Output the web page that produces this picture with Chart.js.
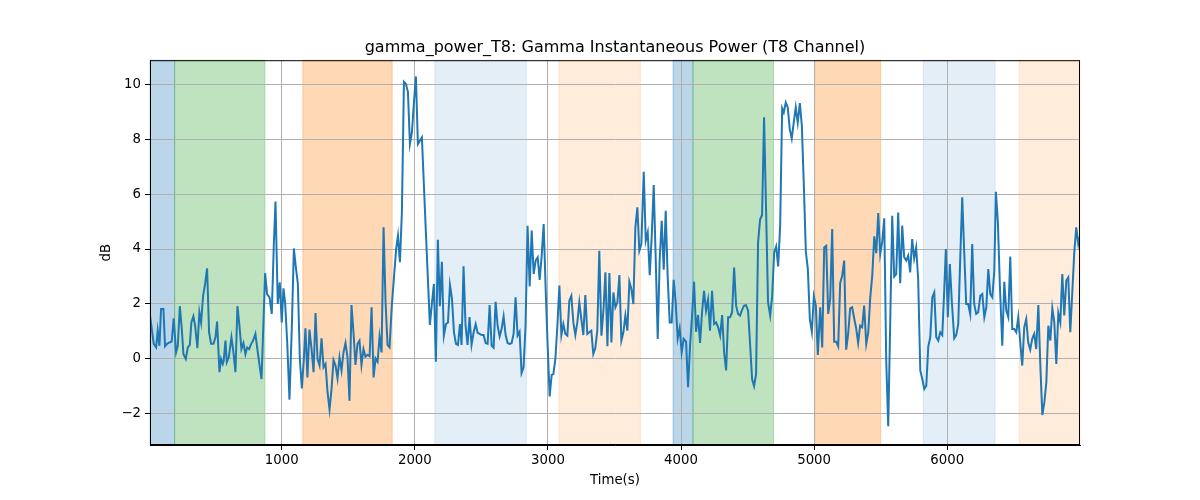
<!DOCTYPE html>
<html>
<head>
<meta charset="utf-8">
<script src="https://cdn.jsdelivr.net/npm/chart.js@4/dist/chart.umd.min.js"></script>
<style>
  html, body { margin: 0; padding: 0; background: #fff; }
  #wrap { width: 1200px; height: 500px; }
</style>
</head>
<body>
<div id="wrap"><canvas id="chart" width="1200" height="500"></canvas></div>
<script>
// sample times (s)
const timeS = [
  10,38,56,68,81,93,111,123,138,156,173,188,206,219,234,249,261,279,294,309,321,336,349,366,381,394,409,424,439,454,469,487,502,514,532,544,557,564,577,587,602,622,637,652,667,682,697,712,727,740,755,770,785,802,820,835,848,875,890,908,925,940,953,970,985,
  1000,1013,1026,1041,1058,1076,1091,1106,1121,1136,1151,1166,1178,1193,1208,1224,1239,1254,1269,1284,1299,1314,1329,1344,1359,1374,1389,1404,1419,1434,1449,1464,1479,1494,1509,1524,1539,1554,1569,1584,1599,1614,1629,1645,1660,1675,1690,1705,1720,1735,1750,1765,1780,1795,1810,1827,1845,1860,1873,1888,1903,1918,1933,1948,1963,1978,1993,2008,
  2023,2038,2053,2083,2113,2128,2143,2158,2173,2188,2203,2218,2234,2249,2264,2279,2294,2309,2324,2339,2351,2366,2381,2396,2411,2426,2442,2457,2472,2487,2502,2517,2532,2547,2562,2577,2592,2607,2622,2637,2652,2667,2682,2697,2712,2727,2742,2757,2772,2787,2802,2817,2832,2847,2863,2878,2893,2908,2923,2938,2953,2968,2983,2998,3013,
  3028,3041,3056,3071,3086,3101,3116,3131,3146,3161,3176,3191,3206,3221,3236,3251,3266,3281,3296,3311,3326,3341,3356,3371,3386,3402,3417,3432,3447,3462,3477,3492,3507,3522,3537,3552,3567,3582,3597,3612,3627,3642,3657,3672,3687,3702,3720,3735,3750,3765,3780,3795,3810,3825,3840,3855,3870,3885,3900,3915,3930,3945,3960,3975,3990,4005,4020,
  4038,4053,4068,4083,4098,4113,4128,4143,4158,4173,4188,4203,4218,4233,4249,4264,4279,4294,4309,4324,4339,4354,4369,4384,4399,4414,4429,4444,4459,4474,4489,4504,4519,4534,4549,4564,4579,4594,4609,4624,4639,4654,4670,4685,4700,4715,4730,4745,4760,4772,4787,4802,4817,4832,4847,4862,4877,4893,4908,4923,4938,4953,4968,4983,4998,5013,5028,
  5046,5061,5076,5091,5106,5121,5136,5151,5166,5181,5196,5211,5226,5241,5256,5271,5286,5301,5316,5331,5346,5361,5376,5392,5407,5422,5437,5452,5467,5482,5497,5512,5527,5542,5557,5572,5587,5602,5617,5632,5647,5662,5677,5692,5707,5722,5737,5752,5767,5782,5798,5813,5828,5843,5858,5873,5888,5903,5918,5933,5948,5963,5978,5990,6005,6020,6036,
  6053,6068,6083,6098,6113,6128,6143,6158,6173,6188,6203,6218,6233,6249,6264,6279,6294,6309,6324,6339,6354,6366,6381,6396,6414,6429,6444,6459,6474,6489,6504,6519,6534,6549,6564,6579,6594,6609,6624,6639,6654,6669,6685,6700,6715,6730,6745,6760,6775,6790,6805,6820,6835,6850,6865,6880,6895,6910,6925,6940,6955,6970,6985,6998
];

// gamma power (dB), same order as timeS
const gammaDb = [
  1.58,0.55,0.42,1.03,0.48,1.82,1.82,0.46,0.55,0.6,0.63,1.48,0.24,0.48,1.92,1.09,0.18,0.0,0.42,0.51,1.33,1.55,1.21,0.39,1.7,1.33,2.3,2.73,3.3,0.97,0.55,0.55,0.79,1.36,-0.48,0,-0.18,-0.06,0.67,-0.12,0.06,0.79,0.24,-0.48,1.92,1.21,0.36,0.58,0.18,0.42,0.36,0.55,0.67,0.91,0.24,-0.3,-0.73,3.12,2.36,2.24,1.64,4.12,5.73,2.0,2.79,
  1.33,2.57,2.0,0.6,-1.48,1.21,4.02,3.33,2.73,0,-1.07,0,1.12,-0.67,1.07,0.36,-0.48,1.67,0,-0.24,0.75,-0.3,-0.18,-1.21,-1.84,-1.09,-0.04,-0.24,-0.7,0.06,-0.42,0.24,0.58,0.06,-1.52,1.96,0.97,-0.22,0.55,0.67,-0.22,0.36,0.08,0.15,0.1,1.88,-0.67,0.02,-0.1,0.82,0.24,4.79,2.06,0.51,0.42,1.94,3.09,4.02,4.48,3.52,5.39,10.08,10.0,9.72,7.82,8.24,9.33,10.28,
  7.82,7.94,8.06,4.6,1.24,2.0,2.73,-0.1,4.34,1.92,3.54,0.85,1.27,1.33,2.69,2.2,0.97,0.55,0.51,1.27,0.51,3.37,1.21,0.51,1.52,0.51,0.97,1.27,0.95,0.91,0.87,0.87,0.58,0.55,1.96,0.48,0.41,2.08,1.21,0.82,1.09,1.55,0.87,0.58,0.55,0.57,0.91,2.24,0.85,0.99,-0.51,-0.3,1.21,4.85,2.64,4.67,3.09,3.58,3.7,2.88,3.76,4.91,2.55,0.48,-1.36,
  -0.58,-0.55,0,1.21,2.67,0.87,1.27,0.91,0.85,2.12,2.3,1.33,0.87,1.33,2.06,1.45,0.87,2.33,0.91,0.97,1.03,0.18,0.39,1.03,3.94,0.85,1.76,3.15,0.46,3.13,0.6,2.42,1.88,2.06,3.05,0.67,0.97,1.58,1.03,2.81,2.55,2.0,4.79,5.52,3.94,4.18,6.81,4.3,4.6,3.05,4.48,6.33,3.64,0.73,3.64,5.03,3.25,5.39,2.97,1.33,1.33,2.88,2.06,0.75,1.12,0.24,0.73,
  0.63,-1.03,0.48,1.58,2.81,0.99,1.6,0.58,1.7,2.48,1.76,2.16,1.03,2.48,1.27,1.33,1.15,0.85,1.6,0.24,-0.42,1.52,1.52,1.7,3.33,1.94,1.64,1.58,1.79,1.94,1.96,1.76,0.55,-0.73,-0.99,-0.55,4.24,5.07,5.24,8.79,5.45,2.06,1.58,2.3,3.88,4.1,3.37,4.85,9.12,8.97,9.33,9.15,8.36,8.02,8.6,9.15,8.6,9.31,8.48,6.3,3.9,3.27,1.45,0.99,2.28,1.94,0.15,
  1.88,0.42,4.06,4.12,1.64,2.18,4.73,0.63,0.63,0.46,2.76,3.03,3.58,0.34,0.91,1.84,1.88,1.48,1.12,0.58,1.21,1.15,1.94,0.55,0.97,2.24,3.03,4.46,3.85,5.31,3.82,4.27,5.12,-0.06,-2.45,1.33,5.21,3.0,3.09,5.33,2.76,4.85,3.7,3.58,3.76,3.15,4.36,3.66,4.06,2.91,-0.42,-0.73,-1.09,-0.97,0.46,0.79,2.24,2.42,0.79,0.67,0.97,0.87,2.52,4.0,1.52,3.45,2.0,
  0.75,0.87,1.27,3.64,5.88,3.88,2.0,2.0,1.64,4.18,2.0,1.64,1.7,2.3,2.36,1.52,1.88,3.27,2.36,2.24,3.21,6.08,4.97,2.67,0.48,2.81,1.76,1.52,3.73,1.09,1.09,0.97,1.52,0.6,-0.24,1.15,1.45,0.6,0.34,0.73,0.91,0.36,1.96,-0.24,-2.04,-1.58,-0.85,1.21,0.67,1.84,1.33,-0.18,1.67,1.33,3.09,1.58,2.85,2.97,0.97,2.42,3.88,4.79,4.18,4.48
];

// shaded stage intervals: start, end (s) and colour
const spanStart = [10, 195, 1158, 2150, 3083, 3940, 4090, 5005, 5820, 6541];
const spanEnd   = [195, 873, 1830, 2838, 3695, 4090, 4695, 5500, 6360, 6998];
const spanColor = [
  'rgba(31,119,180,0.3)', 'rgba(44,160,44,0.3)', 'rgba(255,127,14,0.3)',
  'rgba(31,119,180,0.12)', 'rgba(255,127,14,0.15)', 'rgba(31,119,180,0.3)',
  'rgba(44,160,44,0.3)', 'rgba(255,127,14,0.3)', 'rgba(31,119,180,0.12)',
  'rgba(255,127,14,0.15)'
];

const xTicks = [1000, 2000, 3000, 4000, 5000, 6000];
const yTicks = [-2, 0, 2, 4, 6, 8, 10];

const FONT = 'DejaVu Sans';

// spans go under the grid, like axvspan in matplotlib
const spanPlugin = {
  id: 'spans',
  beforeDraw(chart) {
    const { ctx, chartArea, scales } = chart;
    ctx.save();
    for (let i = 0; i < spanStart.length; i++) {
      const x0 = scales.x.getPixelForValue(spanStart[i]);
      const x1 = scales.x.getPixelForValue(spanEnd[i]);
      ctx.fillStyle = spanColor[i];
      ctx.fillRect(x0, chartArea.top, x1 - x0, chartArea.bottom - chartArea.top);
      ctx.strokeStyle = spanColor[i];
      ctx.lineWidth = 1;
      ctx.strokeRect(x0, chartArea.top, x1 - x0, chartArea.bottom - chartArea.top);
    }
    ctx.restore();
  }
};

// box around the plot area
const framePlugin = {
  id: 'frame',
  afterDatasetsDraw(chart) {
    const { ctx, chartArea } = chart;
    ctx.save();
    ctx.strokeStyle = '#000';
    ctx.lineWidth = 1;
    ctx.strokeRect(chartArea.left + 0.5, chartArea.top + 0.5,
      chartArea.right - chartArea.left - 1, chartArea.bottom - chartArea.top - 1);
    ctx.restore();
  }
};

const minus = v => String(v).replace('-', '\u2212');

new Chart(document.getElementById('chart').getContext('2d'), {
  type: 'line',
  data: {
    datasets: [{
      label: 'gamma_power_T8',
      data: timeS.map((t, i) => ({ x: t, y: gammaDb[i] })),
      borderColor: '#1f77b4',
      borderWidth: 2,
      pointRadius: 0,
      tension: 0,
      fill: false
    }]
  },
  options: {
    responsive: false,
    animation: false,
    devicePixelRatio: 1,
    layout: { padding: { left: 0, right: 120, top: 0, bottom: 0 } },
    plugins: {
      legend: { display: false },
      tooltip: { enabled: false },
      title: {
        display: true,
        text: 'gamma_power_T8: Gamma Instantaneous Power (T8 Channel)',
        color: '#000',
        fullSize: false,
        font: { family: FONT, size: 16, weight: 'normal', lineHeight: 1.2 },
        padding: { top: 38, bottom: 3 }
      }
    },
    scales: {
      x: {
        type: 'linear',
        min: 10,
        max: 6998,
        afterBuildTicks: s => { s.ticks = xTicks.map(v => ({ value: v })); },
        afterFit: s => { s.height = 55; },
        grid: { color: '#b0b0b0', lineWidth: 1, tickColor: '#000', tickLength: 5 },
        border: { display: true, color: '#000', width: 1 },
        ticks: { color: '#000', font: { family: FONT, size: 13.3 }, padding: 3, maxRotation: 0, callback: v => String(v) },
        title: {
          display: true, text: 'Time(s)', color: '#000',
          font: { family: FONT, size: 13.3, lineHeight: 1.2 },
          padding: { top: 0, bottom: 11 }
        }
      },
      y: {
        min: -3.13,
        max: 10.87,
        afterBuildTicks: s => { s.ticks = yTicks.map(v => ({ value: v })); },
        afterFit: s => { s.width = 150; },
        grid: { color: '#b0b0b0', lineWidth: 1, tickColor: '#000', tickLength: 5 },
        border: { display: true, color: '#000', width: 1 },
        ticks: { color: '#000', font: { family: FONT, size: 13.3 }, padding: 4, callback: v => minus(v) },
        title: {
          display: true, text: 'dB', color: '#000',
          font: { family: FONT, size: 13.3, lineHeight: 1.2 },
          padding: { top: 99, bottom: 0 }
        }
      }
    }
  },
  plugins: [spanPlugin, framePlugin]
});
</script>
</body>
</html>
